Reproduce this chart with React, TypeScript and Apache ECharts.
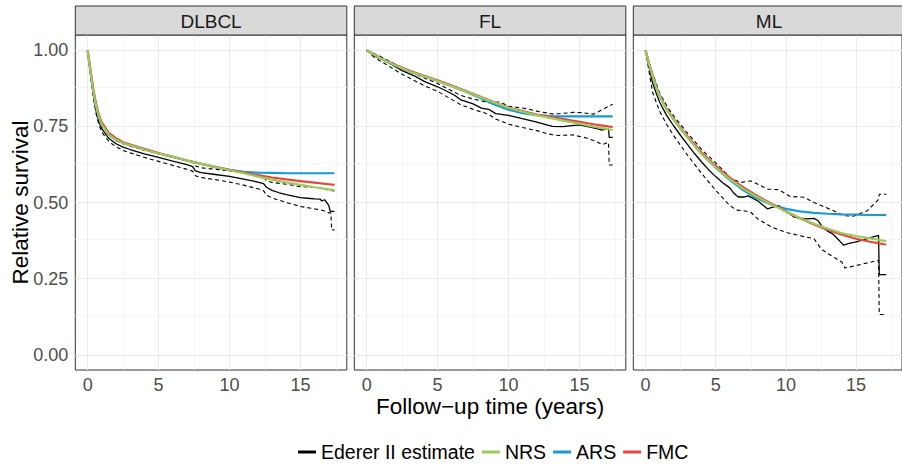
import React, { useEffect, useRef } from "react";
import * as echarts from "echarts";

// ---------- Data ----------
const panelNames = ["DLBCL", "FL", "ML"];
const legendNames = ["Ederer II estimate", "NRS", "ARS", "FMC"];
const xTickValues = [0, 5, 10, 15];
const yTickValues = [0, 0.25, 0.5, 0.75, 1];
const xMinorValues = [2.5, 7.5, 12.5, 17.5];
const yMinorValues = [0.125, 0.375, 0.625, 0.875];

// DLBCL
const dlbclModelT = [0, 0.2, 0.4, 0.6, 0.8, 1, 1.5, 2, 2.5, 3, 4, 5, 6, 7, 8, 9, 10, 11, 12, 13, 14, 15, 16, 17, 17.4];
const dlbclNRS = [1, 0.93, 0.865, 0.815, 0.78, 0.755, 0.722, 0.706, 0.695, 0.688, 0.674, 0.661, 0.65, 0.638, 0.627, 0.617, 0.606, 0.596, 0.585, 0.575, 0.566, 0.558, 0.55, 0.543, 0.541];
const dlbclARS = [1, 0.93, 0.865, 0.815, 0.78, 0.755, 0.722, 0.706, 0.695, 0.688, 0.674, 0.661, 0.65, 0.638, 0.627, 0.616, 0.607, 0.601, 0.598, 0.597, 0.596, 0.596, 0.596, 0.596, 0.596];
const dlbclFMC = [1, 0.935, 0.872, 0.822, 0.787, 0.762, 0.728, 0.711, 0.698, 0.69, 0.676, 0.662, 0.65, 0.638, 0.627, 0.617, 0.607, 0.598, 0.59, 0.582, 0.576, 0.57, 0.565, 0.56, 0.558];
const dlbclEderer = [[0, 1], [0.2, 0.925], [0.4, 0.855], [0.6, 0.8], [0.8, 0.765], [1, 0.742], [1.5, 0.71], [2, 0.693], [2.5, 0.682], [3, 0.674], [4, 0.66], [5, 0.648], [6, 0.636], [7, 0.624], [7.4, 0.618], [7.6, 0.604], [8, 0.598], [9, 0.592], [10, 0.586], [11, 0.577], [12, 0.567], [12.4, 0.562], [12.6, 0.55], [13, 0.54], [13.5, 0.532], [14, 0.526], [15, 0.516], [15.5, 0.514], [16, 0.512], [16.4, 0.511], [16.5, 0.505], [16.7, 0.509], [16.9, 0.497], [17, 0.49], [17.1, 0.471], [17.4, 0.471]];
const dlbclLower = [[0, 1], [0.2, 0.918], [0.4, 0.845], [0.6, 0.79], [0.8, 0.755], [1, 0.731], [1.5, 0.7], [2, 0.683], [2.5, 0.671], [3, 0.663], [4, 0.648], [5, 0.635], [6, 0.622], [7, 0.609], [7.4, 0.603], [7.6, 0.588], [8, 0.582], [9, 0.575], [10, 0.567], [11, 0.557], [12, 0.545], [12.4, 0.539], [12.6, 0.524], [13, 0.515], [14, 0.5], [15, 0.487], [16, 0.479], [16.4, 0.476], [16.7, 0.472], [17, 0.466], [17.15, 0.466], [17.2, 0.41], [17.4, 0.41]];
const dlbclUpper = [[0, 1], [0.2, 0.932], [0.4, 0.865], [0.6, 0.81], [0.8, 0.775], [1, 0.753], [1.5, 0.72], [2, 0.703], [2.5, 0.693], [3, 0.685], [4, 0.672], [5, 0.661], [6, 0.65], [7, 0.639], [7.4, 0.633], [7.6, 0.62], [8, 0.614], [9, 0.609], [10, 0.604], [11, 0.597], [12, 0.589], [12.4, 0.585], [12.6, 0.572], [13, 0.566], [14, 0.56], [15, 0.552], [16, 0.55], [16.5, 0.548], [17, 0.54], [17.4, 0.538]];

// FL
const flModelT = [0, 1, 2, 3, 4, 5, 6, 7, 8, 9, 10, 11, 12, 13, 14, 15, 16, 17, 17.35];
const flNRS = [1, 0.973, 0.951, 0.931, 0.915, 0.899, 0.882, 0.864, 0.846, 0.828, 0.811, 0.798, 0.787, 0.777, 0.767, 0.759, 0.749, 0.741, 0.738];
const flARS = [1, 0.973, 0.951, 0.931, 0.915, 0.899, 0.882, 0.864, 0.843, 0.822, 0.805, 0.793, 0.787, 0.784, 0.783, 0.783, 0.783, 0.783, 0.783];
const flFMC = [1, 0.974, 0.952, 0.933, 0.917, 0.901, 0.884, 0.866, 0.848, 0.829, 0.812, 0.8, 0.789, 0.781, 0.773, 0.765, 0.757, 0.75, 0.748];
const flEderer = [[0, 1], [0.6, 0.98], [1, 0.972], [1.75, 0.953], [2.5, 0.933], [3.4, 0.915], [4.1, 0.897], [5, 0.88], [5.8, 0.862], [6.2, 0.852], [6.6, 0.838], [7.5, 0.824], [8.1, 0.81], [8.6, 0.806], [9.1, 0.792], [10, 0.786], [10.9, 0.776], [12, 0.764], [12.7, 0.755], [13.1, 0.75], [13.8, 0.749], [15, 0.755], [15.6, 0.749], [16.3, 0.742], [16.6, 0.738], [16.9, 0.742], [17.05, 0.742], [17.1, 0.714], [17.35, 0.714]];
const flUpper = [[0, 1], [1, 0.979], [2.5, 0.942], [4.1, 0.908], [5, 0.891], [6.6, 0.852], [7.5, 0.84], [8.6, 0.828], [9.4, 0.83], [10, 0.816], [11.3, 0.808], [12, 0.8], [13.2, 0.79], [14.6, 0.796], [15.2, 0.795], [16, 0.79], [16.7, 0.807], [17.35, 0.823]];
const flLower = [[0, 1], [0.6, 0.974], [1, 0.964], [2.5, 0.921], [4.1, 0.883], [5, 0.865], [6.6, 0.822], [7.5, 0.806], [8.6, 0.79], [9.1, 0.774], [10, 0.757], [11, 0.746], [12, 0.736], [12.8, 0.725], [13.5, 0.72], [14.5, 0.722], [15.5, 0.712], [16.2, 0.7], [16.6, 0.69], [17.05, 0.698], [17.1, 0.623], [17.35, 0.623]];

// ML
const mlModelT = [0, 0.25, 0.5, 0.75, 1, 1.5, 2, 2.5, 3, 4, 5, 6, 7, 8, 9, 10, 11, 12, 13, 14, 15, 16, 17, 17.15];
const mlNRS = [1, 0.955, 0.915, 0.88, 0.85, 0.806, 0.773, 0.742, 0.713, 0.659, 0.615, 0.577, 0.544, 0.517, 0.493, 0.47, 0.449, 0.43, 0.414, 0.399, 0.39, 0.382, 0.374, 0.373];
const mlARS = [1, 0.955, 0.915, 0.88, 0.85, 0.806, 0.773, 0.742, 0.713, 0.659, 0.614, 0.574, 0.539, 0.512, 0.493, 0.479, 0.471, 0.466, 0.463, 0.461, 0.46, 0.459, 0.459, 0.459];
const mlFMC = [1, 0.956, 0.917, 0.882, 0.852, 0.808, 0.775, 0.745, 0.717, 0.664, 0.62, 0.582, 0.549, 0.521, 0.495, 0.471, 0.448, 0.428, 0.41, 0.394, 0.381, 0.371, 0.363, 0.362];
const mlEderer = [[0, 1], [0.25, 0.945], [0.5, 0.893], [0.75, 0.86], [1, 0.83], [1.5, 0.786], [2, 0.752], [2.5, 0.72], [3, 0.69], [3.5, 0.66], [4, 0.633], [4.5, 0.607], [5, 0.585], [5.5, 0.565], [6, 0.548], [6.3, 0.53], [6.6, 0.518], [7, 0.518], [7.3, 0.522], [7.6, 0.515], [8, 0.505], [8.4, 0.49], [8.7, 0.479], [9, 0.484], [9.5, 0.49], [9.8, 0.475], [10.2, 0.465], [10.6, 0.452], [11, 0.449], [11.5, 0.446], [12, 0.448], [12.3, 0.44], [12.6, 0.42], [13, 0.405], [13.3, 0.398], [13.6, 0.385], [14.1, 0.36], [14.5, 0.366], [15, 0.371], [15.8, 0.381], [16.6, 0.392], [16.65, 0.263], [17.15, 0.263]];
const mlUpper = [[0, 1], [0.25, 0.96], [0.5, 0.925], [1, 0.86], [1.6, 0.811], [2, 0.785], [3, 0.727], [4, 0.674], [5, 0.63], [5.5, 0.607], [6.1, 0.578], [6.8, 0.566], [7.5, 0.571], [8, 0.56], [8.7, 0.544], [9.5, 0.542], [10.3, 0.52], [11.3, 0.517], [12, 0.5], [12.5, 0.49], [13.4, 0.473], [14.1, 0.457], [14.8, 0.455], [15.8, 0.473], [16.6, 0.51], [16.65, 0.527], [17.15, 0.527]];
const mlLower = [[0, 1], [0.25, 0.93], [0.5, 0.862], [1, 0.8], [1.5, 0.757], [2, 0.72], [3, 0.655], [4, 0.595], [5, 0.54], [6, 0.49], [6.5, 0.475], [7, 0.473], [7.5, 0.468], [8, 0.446], [9, 0.419], [10, 0.402], [11, 0.391], [12, 0.381], [12.5, 0.348], [13, 0.332], [14, 0.304], [14.2, 0.285], [15, 0.293], [16.6, 0.31], [16.65, 0.132], [17.15, 0.132]];

const panels = [
  { t: dlbclModelT, nrs: dlbclNRS, ars: dlbclARS, fmc: dlbclFMC, ederer: dlbclEderer, lower: dlbclLower, upper: dlbclUpper },
  { t: flModelT, nrs: flNRS, ars: flARS, fmc: flFMC, ederer: flEderer, lower: flLower, upper: flUpper },
  { t: mlModelT, nrs: mlNRS, ars: mlARS, fmc: mlFMC, ederer: mlEderer, lower: mlLower, upper: mlUpper },
];

// ---------- Styling / layout ----------
const FONT = "'Liberation Sans', Arial, Helvetica, sans-serif";
const COLORS = { ederer: "#000000", NRS: "#9ACB5B", ARS: "#179BD7", FMC: "#E8443A" };
const PANEL_LEFTS = [75.3, 354.3, 633.3];
const PANEL_W = 271.5;
const PANEL_TOP = 35;
const PANEL_H = 335;
const STRIP_TOP = 6;
const X_MIN = -0.87;
const X_MAX = 18.27;
const Y_MIN = -0.05;
const Y_MAX = 1.05;

function zip(t: number[], v: number[]) {
  return t.map((x, i) => [x, v[i]]);
}

function buildOption() {
  const grid: any[] = [];
  const xAxis: any[] = [];
  const yAxis: any[] = [];
  const series: any[] = [];
  const graphic: any[] = [];

  panels.forEach((p, i) => {
    grid.push({
      left: PANEL_LEFTS[i],
      top: PANEL_TOP,
      width: PANEL_W,
      height: PANEL_H,
      show: true,
      backgroundColor: "#ffffff",
      borderColor: "#333333",
      borderWidth: 1,
    });
    xAxis.push({
      type: "value",
      gridIndex: i,
      min: X_MIN,
      max: X_MAX,
      axisLine: { show: false },
      splitLine: { show: false },
      axisTick: { show: true, customValues: xTickValues, length: 4, lineStyle: { color: "#333333", width: 1 } },
      axisLabel: { customValues: xTickValues, color: "#4D4D4D", fontSize: 18, fontFamily: FONT, margin: 6 },
    });
    yAxis.push({
      type: "value",
      gridIndex: i,
      min: Y_MIN,
      max: Y_MAX,
      axisLine: { show: false },
      splitLine: { show: false },
      axisTick: { show: i === 0, customValues: yTickValues, length: 4, lineStyle: { color: "#333333", width: 1 } },
      axisLabel: {
        show: i === 0,
        customValues: yTickValues,
        color: "#4D4D4D",
        fontSize: 18,
        fontFamily: FONT,
        margin: 7,
        formatter: (v: number) => v.toFixed(2),
      },
    });

    const major = { color: "#EBEBEB", width: 1.1, type: "solid" };
    const minor = { color: "#F2F2F2", width: 0.8, type: "solid" };
    const mlData: any[] = [];
    xTickValues.forEach((v) => mlData.push({ xAxis: v, lineStyle: major }));
    xMinorValues.forEach((v) => mlData.push({ xAxis: v, lineStyle: minor }));
    yTickValues.forEach((v) => mlData.push({ yAxis: v, lineStyle: major }));
    yMinorValues.forEach((v) => mlData.push({ yAxis: v, lineStyle: minor }));
    series.push({
      name: "grid" + i,
      type: "line",
      xAxisIndex: i,
      yAxisIndex: i,
      data: [],
      z: 1,
      silent: true,
      markLine: { silent: true, symbol: ["none", "none"], label: { show: false }, data: mlData, z: 1 },
    });

    const common = { type: "line", xAxisIndex: i, yAxisIndex: i, showSymbol: false, symbol: "none", smooth: false, clip: true, silent: true };
    series.push({ ...common, name: "Lower limit", data: p.lower, z: 2, itemStyle: { color: "#000" }, lineStyle: { color: "#000", width: 1.1, type: [4, 3] } });
    series.push({ ...common, name: "Upper limit", data: p.upper, z: 2, itemStyle: { color: "#000" }, lineStyle: { color: "#000", width: 1.1, type: [4, 3] } });
    series.push({ ...common, name: "Ederer II estimate", data: p.ederer, z: 3, itemStyle: { color: COLORS.ederer }, lineStyle: { color: COLORS.ederer, width: 1.3 } });
    series.push({ ...common, name: "ARS", data: zip(p.t, p.ars), z: 4, itemStyle: { color: COLORS.ARS }, lineStyle: { color: COLORS.ARS, width: 2.2 } });
    series.push({ ...common, name: "FMC", data: zip(p.t, p.fmc), z: 5, itemStyle: { color: COLORS.FMC }, lineStyle: { color: COLORS.FMC, width: 2.2 } });
    series.push({ ...common, name: "NRS", data: zip(p.t, p.nrs), z: 6, itemStyle: { color: COLORS.NRS }, lineStyle: { color: COLORS.NRS, width: 2.2 } });

    graphic.push({
      type: "rect",
      shape: { x: PANEL_LEFTS[i], y: STRIP_TOP, width: PANEL_W, height: PANEL_TOP - STRIP_TOP },
      style: { fill: "#D9D9D9", stroke: "#333333", lineWidth: 1 },
      z: 10,
    });
    graphic.push({
      type: "text",
      x: PANEL_LEFTS[i] + PANEL_W / 2,
      y: (STRIP_TOP + PANEL_TOP) / 2 + 0.5,
      style: {
        text: panelNames[i],
        fill: "#1A1A1A",
        fontSize: 19,
        fontFamily: FONT,
        fontWeight: "normal",
        textAlign: "center",
        textVerticalAlign: "middle",
      },
      z: 11,
    });
  });

  graphic.push({
    type: "text",
    x: 20,
    y: PANEL_TOP + PANEL_H / 2,
    rotation: Math.PI / 2,
    style: { text: "Relative survival", fill: "#000", fontSize: 22.5, fontFamily: FONT, fontWeight: "normal", textAlign: "center", textVerticalAlign: "middle" },
    z: 11,
  });
  graphic.push({
    type: "text",
    x: (PANEL_LEFTS[0] + PANEL_LEFTS[2] + PANEL_W) / 2,
    y: 406,
    style: { text: "Follow\u2212up time (years)", fill: "#000", fontSize: 22.5, fontFamily: FONT, fontWeight: "normal", textAlign: "center", textVerticalAlign: "middle" },
    z: 11,
  });

  return {
    animation: false,
    backgroundColor: "#ffffff",
    textStyle: { fontFamily: FONT },
    grid,
    xAxis,
    yAxis,
    series,
    graphic,
    legend: {
      data: legendNames,
      left: 298,
      top: 442,
      padding: 0,
      itemGap: 7,
      itemWidth: 18,
      itemHeight: 3,
      icon: "rect",
      selectedMode: false,
      textStyle: { fontSize: 19.5, color: "#000", fontFamily: FONT, lineHeight: 20 },
    },
  };
}

export default function App() {
  const ref = useRef<HTMLDivElement>(null);
  useEffect(() => {
    if (!ref.current) return;
    const chart = echarts.init(ref.current, null, { renderer: "svg" });
    chart.setOption(buildOption() as any);
    return () => chart.dispose();
  }, []);
  return (
    <div
      ref={ref}
      style={{ position: "fixed", left: 0, top: 0, width: 902, height: 467, background: "#fff" }}
    />
  );
}
